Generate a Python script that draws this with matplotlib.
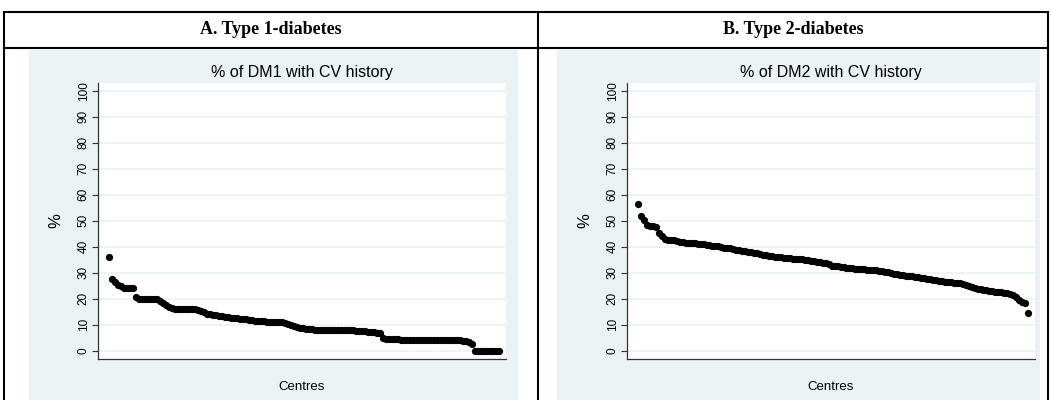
import numpy as np
import matplotlib
matplotlib.use("Agg")
import matplotlib.pyplot as plt
from matplotlib.lines import Line2D
from matplotlib.patches import Rectangle

# % of patients with CV history per centre, sorted high -> low
dm1_pct = [
    36.0, 27.4, 26.5, 25.2, 24.8, 24.3, 24.0, 24.0, 24.0, 20.8,
    20.0, 20.0, 20.0, 20.0, 20.0, 20.0, 20.0, 19.3, 18.2, 17.6,
    17.0, 16.4, 16.0, 16.0, 16.0, 16.0, 16.0, 16.0, 16.0, 16.0,
    15.6, 15.2, 14.8, 14.3, 14.0, 13.9, 13.7, 13.5, 13.3, 13.1,
    12.8, 12.6, 12.5, 12.5, 12.3, 12.0, 12.0, 11.8, 11.7, 11.6,
    11.5, 11.4, 11.4, 11.2, 11.1, 11.1, 11.1, 11.0, 11.0, 10.8,
    10.3, 9.9, 9.4, 9.0, 8.8, 8.6, 8.4, 8.3, 8.2, 8.1,
    8.0, 8.0, 8.0, 8.0, 8.0, 8.0, 8.0, 8.0, 8.0, 8.0,
    8.0, 7.9, 7.8, 7.7, 7.6, 7.5, 7.4, 7.3, 7.1, 7.0,
    6.9, 6.7, 4.8, 4.5, 4.4, 4.4, 4.4, 4.4, 4.3, 4.3,
    4.3, 4.3, 4.3, 4.2, 4.2, 4.2, 4.2, 4.2, 4.2, 4.1,
    4.1, 4.1, 4.1, 4.1, 4.0, 4.0, 4.0, 4.0, 4.0, 3.9,
    3.6, 3.2, 2.7, 0.0, 0.0, 0.0, 0.0, 0.0, 0.0, 0.0,
    0.0, 0.0,
]
dm2_pct = [
    56.4, 51.7, 50.3, 48.5, 48.0, 47.8, 47.5, 45.3, 44.0, 43.0,
    42.6, 42.5, 42.4, 42.3, 42.0, 41.7, 41.6, 41.5, 41.4, 41.3,
    41.2, 41.1, 40.9, 40.7, 40.6, 40.4, 40.3, 40.1, 39.9, 39.7,
    39.5, 39.4, 39.2, 38.9, 38.7, 38.5, 38.2, 38.0, 37.8, 37.5,
    37.4, 37.3, 37.0, 36.8, 36.6, 36.3, 36.2, 36.0, 35.9, 35.8,
    35.6, 35.5, 35.4, 35.3, 35.2, 35.1, 35.0, 34.9, 34.6, 34.4,
    34.2, 34.0, 33.8, 33.7, 33.5, 32.7, 32.5, 32.4, 32.3, 32.1,
    32.0, 31.8, 31.7, 31.6, 31.5, 31.4, 31.3, 31.2, 31.1, 31.0,
    30.9, 30.8, 30.6, 30.3, 30.1, 29.8, 29.6, 29.4, 29.3, 29.1,
    28.9, 28.8, 28.6, 28.5, 28.3, 28.1, 27.9, 27.7, 27.5, 27.3,
    27.1, 27.0, 26.8, 26.6, 26.5, 26.4, 26.2, 26.0, 25.9, 25.7,
    25.2, 24.8, 24.4, 24.1, 23.9, 23.6, 23.4, 23.2, 23.0, 22.9,
    22.7, 22.6, 22.4, 22.3, 22.1, 21.9, 21.3, 20.8, 19.6, 18.9,
    18.5, 14.6,
]

headers = ["A. Type 1-diabetes", "B. Type 2-diabetes"]
titles = ["% of DM1 with CV history", "% of DM2 with CV history"]
yticks = [0, 10, 20, 30, 40, 50, 60, 70, 80, 90, 100]

W, H = 1052, 400
bg = "#EAF2F3"

fig = plt.figure(figsize=(W / 100, H / 100), dpi=100)
fig.patch.set_facecolor("white")

def fx(px):
    return px / W

def fy(py):
    return 1 - py / H

# panel backgrounds (graph region)
for x0, x1 in [(29, 518), (557, 1040)]:
    fig.add_artist(Rectangle((fx(x0), 0), fx(x1) - fx(x0), fy(50),
                             transform=fig.transFigure, facecolor=bg,
                             edgecolor="none", zorder=0))

# table borders
lw = 1.5
for (xa, ya, xb, yb) in [(4, 12, 1048, 12), (4, 48, 1048, 48),
                         (4, 12, 4, 400), (538, 12, 538, 400),
                         (1048, 12, 1048, 400)]:
    fig.add_artist(Line2D([fx(xa), fx(xb)], [fy(ya), fy(yb)],
                          transform=fig.transFigure, color="black", lw=lw))

for cx, txt in zip([271, 793], headers):
    fig.text(fx(cx), fy(30), txt, ha="center", va="center",
             fontsize=13, fontweight="bold", family="Liberation Serif")

series = [dm1_pct, dm2_pct]
lefts = [98, 627]
for k in range(2):
    vals = series[k]
    rank = np.arange(1, len(vals) + 1)
    ax = fig.add_axes([fx(lefts[k]), fy(359), 408 / W, (359 - 83) / H])
    ax.set_facecolor("white")
    ax.plot(rank, vals, "o", color="black", ms=4.2, mec="black", zorder=3)
    ax.set_xlim(-2.7, 134.3)
    ax.set_ylim(-3.2, 103.0)
    ax.set_yticks(yticks)
    ax.set_yticklabels([str(v) for v in yticks], rotation=90, va="center",
                       fontsize=8.5, family="Liberation Sans")
    ax.set_xticks([])
    for v in yticks:
        ax.axhline(v, color=bg, lw=1.2, zorder=1)
    for s in ["top", "right"]:
        ax.spines[s].set_visible(False)
    for s in ["left", "bottom"]:
        ax.spines[s].set_color("#333333")
        ax.spines[s].set_linewidth(0.9)
    ax.tick_params(axis="y", direction="out", length=4, width=0.8,
                   color="#333333", pad=2)
    ax.set_title(titles[k], fontsize=11.5, family="Liberation Sans", pad=4)
    ax.set_ylabel("%", fontsize=12, family="Liberation Sans", labelpad=10)
    ax.set_xlabel("Centres", fontsize=9.5, family="Liberation Sans",
                  labelpad=16)

fig.savefig("out.png", dpi=100)
